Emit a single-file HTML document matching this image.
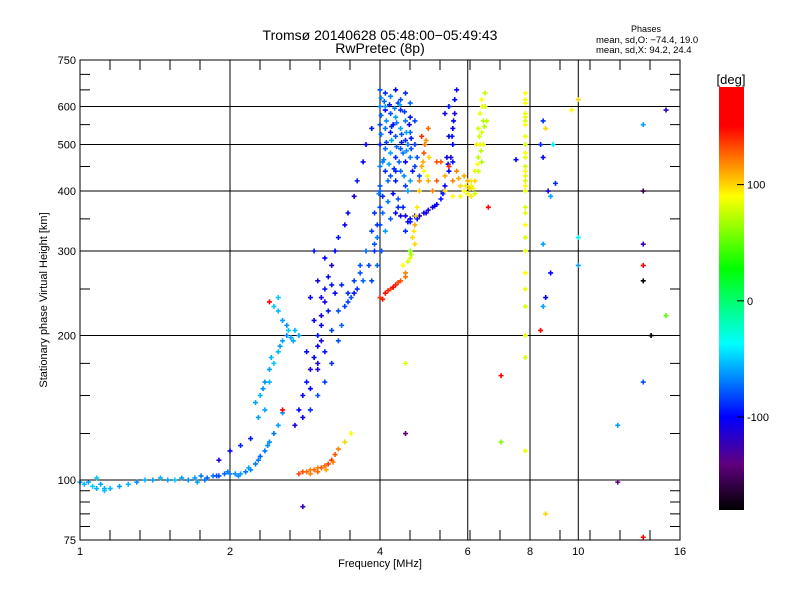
<!DOCTYPE html>
<html><head><meta charset="utf-8"><style>
body{margin:0;background:#fff;}
svg{display:block;font-family:"Liberation Sans",sans-serif;}
</style></head><body>
<svg id="chart" width="800" height="600" viewBox="0 0 800 600" xmlns="http://www.w3.org/2000/svg">
<defs>
<linearGradient id="cbar" x1="0" y1="1" x2="0" y2="0">
<stop offset="0" stop-color="#000000"/>
<stop offset="0.11" stop-color="#600080"/>
<stop offset="0.22" stop-color="#0000ff"/>
<stop offset="0.393" stop-color="#00ffff"/>
<stop offset="0.571" stop-color="#00ff00"/>
<stop offset="0.742" stop-color="#ffff00"/>
<stop offset="0.907" stop-color="#ff0000"/>
<stop offset="1" stop-color="#ff0000"/>
</linearGradient>
</defs>
<text x="380" y="40" font-size="14" text-anchor="middle">Tromsø 20140628 05:48:00−05:49:43</text>
<text x="380" y="53" font-size="14" text-anchor="middle">RwPretec (8p)</text>
<text x="646" y="32" font-size="9" text-anchor="middle">Phases</text>
<text x="596" y="43" font-size="9.5">mean, sd,O: −74.4, 19.0</text>
<text x="596" y="53" font-size="9.5">mean, sd,X:  94.2, 24.4</text>
<g id="grid"></g>
<g id="marks"></g>
<rect x="80" y="60" width="600" height="480" fill="none" stroke="#000" stroke-width="1"/>
<g id="axes"></g>
<text x="380" y="567" font-size="11" text-anchor="middle">Frequency [MHz]</text>
<text transform="translate(47,300) rotate(-90)" font-size="11" text-anchor="middle">Stationary phase Virtual Height [km]</text>
<rect x="719" y="87" width="25" height="423" fill="url(#cbar)"/>
<text x="731" y="84" font-size="13" text-anchor="middle">[deg]</text>
<g id="cbticks"></g>
</svg>
<script>
const xTicks=[1,2,4,6,8,10,16];
const xGrid=[2,4,6,8,10];
const yTicks=[75,100,200,300,400,500,600,750];
const yGrid=[100,200,300,400,500,600];
const yMinor=[80,85,90,95,125,150,175,250,350,450,550,650,700];
const cbTicks=[100,0,-100];

// trace groups: frequency [MHz], virtual height [km], phase [deg]
const eFreq=[1.0,1.02,1.04,1.06,1.08,1.1,1.12,1.15,1.2,1.25,1.3,1.35,1.4,1.45,1.5,1.55,1.6,1.65,1.7,1.75,1.8,1.85,1.9,1.95,2.0,2.05,2.1,2.15,2.2,2.25,2.3,2.35,2.4,2.45,2.5,2.55,1.9,2.0,2.1,2.2,1.08,1.12,1.72,1.78,1.88,1.98,2.08,2.18,2.28,2.38];
const eHeight=[99,98,99,97,96,98,95,96,97,98,99,100,100,101,100,100,101,100,101,102,101,102,102,103,103,103,103,104,105,108,112,115,120,125,130,138,110,115,118,122,101,96,99,100,102,104,102,106,110,118];
const ePhase=[-60,-55,-60,-50,-55,-60,-50,-55,-60,-55,-65,-55,-60,-55,-60,-50,-60,-65,-60,-70,-75,-70,-80,-75,-70,-65,-60,-70,-65,-70,-75,-70,-65,-70,-60,-65,-110,-100,-90,-95,-50,-55,-60,-70,-80,-70,-65,-60,-70,-65];

const f1Freq=[2.25,2.3,2.35,2.4,2.45,2.5,2.55,2.6,2.65,2.7,2.75,2.45,2.5,2.55,2.6,2.5,2.4,2.35,2.28,2.33,2.42,2.52,2.62,2.68];
const f1Height=[145,150,160,170,175,185,195,200,198,205,200,230,225,215,210,240,160,140,135,155,180,190,205,195];
const f1Phase=[-60,-55,-65,-60,-50,-55,-60,-65,-60,-55,-60,-50,-55,-60,-65,-50,-55,-60,-60,-65,-55,-60,-50,-60];

const f2Freq=[2.7,2.75,2.8,2.85,2.9,2.95,3.0,3.0,3.05,3.05,3.1,3.1,3.15,3.2,3.25,3.3,3.4,3.45,3.55,3.6,3.7,3.75,3.85,2.9,3.0,3.1,3.2,3.3,3.35,3.4,3.5,3.6,3.7,3.8,3.9,3.95,4.0,4.0,2.9,3.0,3.1,2.95,2.85,3.05,3.15,3.25,3.35,3.45,3.55,3.65,2.8,2.9,3.0,3.1,3.2,3.3,3.45,3.55,3.65,3.75,3.85,3.9,2.95,3.05,3.2,3.0];
const f2Height=[130,140,150,160,170,180,190,200,210,220,235,250,265,280,300,320,340,360,390,420,460,500,540,140,150,160,175,195,210,230,240,250,260,280,310,340,370,400,240,260,290,300,185,195,225,245,255,235,245,270,135,155,170,185,205,225,245,260,280,300,330,360,215,240,255,175];
const f2Phase=[-110,-100,-105,-95,-110,-100,-105,-95,-100,-110,-105,-95,-100,-110,-100,-95,-105,-100,-110,-95,-100,-105,-95,-90,-80,-85,-90,-80,-75,-85,-80,-90,-75,-85,-80,-90,-85,-80,-105,-110,-100,-95,-100,-110,-95,-100,-90,-85,-95,-80,-105,-100,-110,-95,-85,-80,-90,-85,-80,-75,-85,-90,-100,-105,-95,-110];

const clFreq=[4.0,4.1,4.2,4.3,4.4,4.5,4.6,4.0,4.1,4.2,4.3,4.4,4.5,4.6,4.0,4.1,4.2,4.3,4.4,4.5,4.6,4.7,4.0,4.1,4.2,4.3,4.4,4.5,4.6,4.7,4.0,4.1,4.2,4.3,4.4,4.5,4.6,4.8,4.0,4.05,4.15,4.25,4.35,4.45,4.05,4.0,3.95,4.1,4.2,3.9,3.95,3.85,4.1,4.25,4.35,4.55,4.65,4.75,4.7,4.05,4.15,4.3,4.45,4.55,4.02,4.08,4.18,4.28,4.38,4.48,4.58,4.02,4.12,4.22,4.32,4.42,4.52,4.62,4.02,4.12,4.22,4.32,4.42,4.52,4.62,4.07,4.17,4.27,4.37,4.47,3.98,4.03];
const clHeight=[650,640,630,650,620,640,610,600,590,580,570,590,560,570,550,540,530,520,540,510,530,500,500,490,480,470,490,460,470,450,450,440,430,420,440,410,420,430,410,390,380,395,385,370,360,340,320,330,350,300,280,260,600,550,610,500,440,470,560,460,420,440,480,400,625,615,605,595,605,585,550,575,560,545,555,525,530,515,525,505,510,495,505,485,490,465,455,445,460,430,395,300];
const clPhase=[-80,-90,-70,-100,-80,-90,-75,-70,-100,-80,-60,-90,-70,-95,-85,-70,-95,-80,-60,-90,-75,-85,-95,-75,-60,-90,-80,-100,-70,-85,-70,-90,-80,-95,-75,-85,-60,-80,-80,-90,-70,-100,-80,-90,-75,-85,-70,-60,-80,-90,-75,-85,-60,-100,-85,-70,-95,-80,-85,-65,-75,-90,-70,-60,-65,-75,-95,-70,-60,-85,-100,-75,-65,-90,-70,-80,-60,-95,-70,-85,-60,-75,-95,-65,-80,-70,-60,-90,-75,-65,-70,-80];

const arcFreq=[4.3,4.4,4.5,4.6,4.7,4.8,4.9,5.0,5.1,5.2,5.3,5.4,5.45,5.5,5.55,5.6,5.6,5.65,5.65,5.7,5.5,5.5,4.5,4.6,5.35,5.6,4.35,4.55,4.75,4.95,5.15,5.35,5.48,5.58,5.62,5.4];
const arcHeight=[360,355,355,350,355,355,360,365,370,375,385,410,470,440,470,500,540,580,620,650,600,520,330,345,395,460,370,345,350,360,372,398,455,520,560,580];
const arcPhase=[-100,-105,-110,-100,-105,-110,-100,-105,-110,-100,-95,-100,-105,-100,-110,-100,-105,-110,-100,-105,-95,-100,-90,-95,-100,-95,-90,-100,-95,-110,-100,-90,-105,-95,-100,-110];

const xFreq=[4.0,4.1,4.2,4.3,4.4,4.5,4.55,4.6,4.65,4.7,4.75,4.8,4.8,4.85,4.9,4.95,5.0,4.45,4.6,4.7,4.9,4.85,4.05,4.15,4.25,4.35,4.5,4.62,4.68,4.72,4.88,4.92,5.02,4.98];
const xHeight=[240,245,250,255,260,270,285,300,320,340,370,400,420,450,480,510,540,280,290,310,440,520,238,248,252,258,265,295,330,355,460,500,470,430];
const xPhase=[140,150,135,145,130,120,80,60,100,110,95,105,120,110,130,115,125,90,85,100,90,140,145,140,150,135,125,70,95,100,110,120,100,90];

const lowFreq=[2.75,2.8,2.85,2.9,2.95,3.0,3.05,3.1,3.15,3.2,3.25,3.3,3.4,3.5,2.9,3.0,3.12,3.22];
const lowHeight=[103,104,104,105,105,106,106,107,108,110,113,116,120,125,103,104,105,109];
const lowPhase=[135,130,125,120,125,120,130,125,135,140,130,120,100,90,120,125,110,120];

const yxFreq=[5.2,5.4,5.6,5.8,5.9,6.0,6.1,6.2,5.7,5.9,6.0,5.5,5.3,5.4,5.8,6.1,6.1,6.2,6.3,6.35,6.4,6.45,6.5,6.5,6.4,6.35,6.3,6.25,6.4,6.55,6.45,6.3,6.2,6.0,5.6,5.1,5.0,5.2,6.15,6.28,6.38,6.48,6.42,6.33,5.75,5.95,6.05];
const yxHeight=[420,430,420,410,400,395,390,395,440,430,420,450,460,400,390,410,420,440,470,500,530,560,600,640,620,580,540,500,460,560,500,440,420,420,390,400,420,460,405,455,485,545,600,520,425,410,405];
const yxPhase=[130,110,120,100,90,85,95,80,120,110,90,140,130,100,90,85,95,80,75,85,80,70,80,75,90,85,80,95,70,75,85,80,100,110,90,120,110,130,85,90,75,70,85,80,110,95,100];

const vFreq=[7.83,7.83,7.83,7.83,7.83,7.83,7.83,7.83,7.83,7.83,7.83,7.83,7.83,7.83,7.83,7.83,7.83,7.83,7.83,7.83,7.83,7.83,7.83,7.83,7.83,7.83,7.83,7.83];
const vHeight=[640,620,610,580,570,560,550,520,500,480,470,450,440,430,420,410,400,370,360,340,320,300,270,250,230,200,180,115];
const vPhase=[90,85,90,85,85,80,90,85,80,90,85,80,90,85,80,90,85,80,85,90,80,85,90,85,80,85,80,85];

const sFreq=[8.5,8.6,8.4,8.5,8.7,8.8,8.5,8.8,8.6,8.5,8.4,8.6,10,10,10,12,12,13.5,13.5,13.5,13.5,13.5,13.5,14,15,15,13.5,7.0,7.0,4.5,4.5,2.8,2.4,2.55,7.5,9.7,8.9,9.0,6.6];
const sHeight=[560,540,500,470,400,390,310,270,240,230,205,85,620,280,320,130,99,550,400,310,280,260,160,200,220,590,76,165,120,125,175,88,235,140,465,590,500,415,370];
const sPhase=[-90,100,-90,-100,-110,-60,-60,-100,-100,-60,150,100,100,-60,-40,-60,-140,-60,-160,-120,150,-180,-80,-180,50,-120,150,170,60,-140,80,-120,150,150,-100,90,-40,-90,160];

const x0=80,x1=680,y0=540,y1=60;
function xs(f){return x0+(x1-x0)*Math.log2(f)/4;}
function ys(h){return y0-(y0-y1)*Math.log10(h/75);}
function cy(v){return 87+(184-v)*(423/364);}
function color(v){
  const st=[[-180,[0,0,0]],[-140,[96,0,128]],[-100,[0,0,255]],[-37,[0,255,255]],[28,[0,255,0]],[90,[255,255,0]],[150,[255,0,0]],[190,[255,0,0]]];
  if(v<=st[0][0])return'rgb(0,0,0)';
  for(let i=1;i<st.length;i++){if(v<=st[i][0]){const a=st[i-1],b=st[i],t=(v-a[0])/(b[0]-a[0]);return'rgb('+a[1].map((c,k)=>Math.round(c+(b[1][k]-c)*t)).join(',')+')';}}
  return'rgb(255,0,0)';
}
const NS='http://www.w3.org/2000/svg';
function mk(tag,attrs,parent){const e=document.createElementNS(NS,tag);for(const k in attrs)e.setAttribute(k,attrs[k]);parent.appendChild(e);return e;}

const grid=document.getElementById('grid');
xGrid.forEach(f=>{const l=mk('line',{x1:xs(f),x2:xs(f),y1:y1,y2:y0,stroke:'#000','stroke-width':1},grid);

});
yGrid.forEach(h=>{const l=mk('line',{x1:x0,x2:x1,y1:ys(h),y2:ys(h),stroke:'#000','stroke-width':1},grid);

});

const axes=document.getElementById('axes');
for(let i=0;i<=20;i++){const x=x0+i*30;
  const t=mk('path',{d:'M'+x+' '+y0+'v-10M'+x+' '+y1+'v10',stroke:'#000','stroke-width':1},axes);
  
  }
yMinor.concat(yTicks).forEach(h=>{const y=ys(h);
  const t=mk('path',{d:'M'+x0+' '+y+'h10M'+x1+' '+y+'h-10',stroke:'#000','stroke-width':1},axes);
  
  });
xTicks.forEach(f=>{const t=mk('text',{x:xs(f),y:555,'font-size':11,'text-anchor':'middle'},axes);t.textContent=String(f);
  
  });
yTicks.forEach(h=>{const t=mk('text',{x:76,y:ys(h)+4,'font-size':11,'text-anchor':'end'},axes);t.textContent=String(h);
  
  });

const cbt=document.getElementById('cbticks');
cbTicks.forEach(v=>{const y=cy(v);
  mk('line',{x1:737,x2:744,y1:y,y2:y,stroke:'#000'},cbt);
  const t=mk('text',{x:747,y:y+4,'font-size':11},cbt);t.textContent=String(v);
  
  });

const marks=document.getElementById('marks');
const groups=[[eFreq,eHeight,ePhase,'e-trace'],[f1Freq,f1Height,f1Phase,'f1-trace'],[f2Freq,f2Height,f2Phase,'f2-o-trace'],[clFreq,clHeight,clPhase,'f2-cluster'],[arcFreq,arcHeight,arcPhase,'f2-arc'],[xFreq,xHeight,xPhase,'x-trace'],[lowFreq,lowHeight,lowPhase,'low-x-trace'],[yxFreq,yxHeight,yxPhase,'upper-x-trace'],[vFreq,vHeight,vPhase,'interference-line'],[sFreq,sHeight,sPhase,'scatter-point']];
groups.forEach(g=>{const F=g[0],H=g[1],P=g[2];
  for(let i=0;i<F.length;i++){const x=xs(F[i]),y=ys(H[i]);
    const p=mk('path',{d:'M'+(x-2.5)+' '+y+'h5M'+x+' '+(y-2.5)+'v5',stroke:color(P[i]),'stroke-width':1.6},marks);
    
    }
});
</script>
</body></html>
